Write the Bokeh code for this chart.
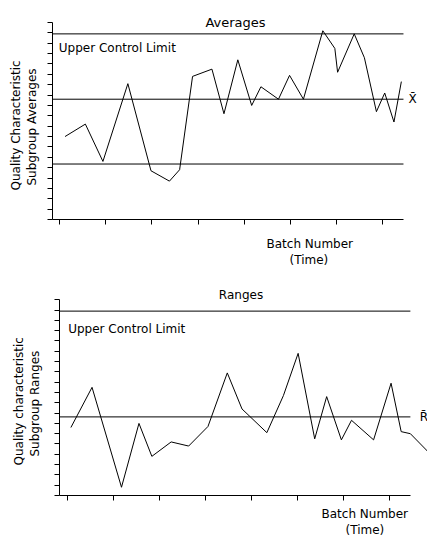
import math
from bokeh.plotting import figure
from bokeh.models import Range1d, FixedTicker, Label, Title
from bokeh.layouts import column
from bokeh.embed import file_html
from bokeh.resources import INLINE

# ---------------- data ----------------
avg_batch = [0.6, 2.8, 4.7, 7.4, 9.9, 11.9, 13.0, 14.4, 16.5, 17.8, 19.3, 20.8, 21.8,
             23.7, 24.9, 26.4, 28.5, 29.8, 30.1, 31.9, 33.0, 34.3, 35.2, 36.2, 37.0]
avg_values = [8.0, 9.2, 5.6, 13.1, 4.7, 3.7, 4.8, 13.8, 14.5, 10.2, 15.4, 11.0, 12.8,
              11.6, 13.9, 11.6, 18.2, 16.5, 14.2, 17.9, 15.6, 10.4, 12.2, 9.4, 13.3]
avg_ucl = 17.9
avg_center = 11.6
avg_lcl = 5.35

range_batch = [0.4, 2.7, 5.9, 7.8, 9.2, 11.3, 13.2, 15.3, 17.4, 19.0, 21.7, 23.5, 25.1,
               26.9, 28.2, 29.8, 30.9, 33.3, 35.2, 36.3, 37.3, 39.6]
range_values = [6.6, 10.5, 0.8, 7.0, 3.8, 5.2, 4.8, 6.7, 11.9, 8.4, 6.1, 9.7, 13.8,
                5.5, 9.6, 5.4, 7.3, 5.4, 10.9, 6.2, 6.0, 3.9]
range_ucl = 17.9
range_center = 7.63

x_ticks = [0, 5, 10, 15, 20, 25, 30, 35]
y_ticks = list(range(0, 20))

FONT = "DejaVu Sans"
FS = "12px"


def style(p, xb, yb, x_space, y_space):
    p.xgrid.visible = False
    p.ygrid.visible = False
    p.outline_line_color = None
    p.background_fill_color = "white"
    p.border_fill_color = "white"
    try:
        p.frame_align = False
    except Exception:
        pass
    for ax, ticks, b, space in ((p.xaxis[0], x_ticks, xb, x_space),
                                (p.yaxis[0], y_ticks, yb, y_space)):
        # visible ticks are drawn as minor ticks; the (invisible) major ticks
        # only reserve room between the axis and its side titles
        ax.ticker = FixedTicker(ticks=ticks, minor_ticks=ticks)
        ax.bounds = b
        ax.major_tick_in = 0
        ax.major_tick_out = space
        ax.major_tick_line_color = None
        ax.minor_tick_in = 0
        ax.minor_tick_out = 5
        ax.minor_tick_line_color = "black"
        ax.major_label_text_font_size = "0px"
        ax.major_label_text_color = None
        ax.major_label_standoff = 0
        ax.axis_line_color = "black"


def lab(p, x, y, text, align="left", baseline="alphabetic", size=FS):
    p.add_layout(Label(x=x, y=y, text=text, text_font=FONT, text_font_size=size,
                       text_color="black", text_align=align, text_baseline=baseline))


def side_title(p, text, side, offset):
    p.add_layout(Title(text=text, align="left", offset=offset, standoff=0,
                       text_font=FONT, text_font_size=FS, text_font_style="normal",
                       text_color="black", vertical_align="middle"), side)


# ---------------- Averages ----------------
x0a, x1a = -0.76, 37.23
p1 = figure(width=427, height=276, title=None,
            x_range=Range1d(-0.758, 39.83), y_range=Range1d(0, 21.12),
            min_border_left=52, min_border_right=0, min_border_top=0, min_border_bottom=57,
            output_backend="svg", toolbar_location=None)
style(p1, (x0a, x1a), (0, 19), 16, 13)
for yv in (avg_ucl, avg_center, avg_lcl):
    p1.line([x0a, x1a], [yv, yv], line_color="black", line_width=1)
p1.line(avg_batch, avg_values, line_color="black", line_width=1)
lab(p1, 19.05, 18.98, "Averages", align="center", size="13px")
lab(p1, -0.08, 16.5, "Upper Control Limit")
lab(p1, 37.77, avg_center, "X\u0304", baseline="middle")
side_title(p1, "Batch Number", "below", 214)
side_title(p1, "(Time)", "below", 237)
side_title(p1, "Subgroup Averages", "left", 34)
side_title(p1, "Quality Characteristic", "left", 29)

# ---------------- Ranges ----------------
x0r, x1r = -0.84, 37.3
p2 = figure(width=427, height=261, title=None,
            x_range=Range1d(-0.837, 39.16), y_range=Range1d(0, 21.26),
            min_border_left=59, min_border_right=0, min_border_top=0, min_border_bottom=41,
            output_backend="svg", toolbar_location=None)
style(p2, (x0r, x1r), (0, 19), 10, 17)
for yv in (range_ucl, range_center):
    p2.line([x0r, x1r], [yv, yv], line_color="black", line_width=1)
p2.line(range_batch, range_values, line_color="black", line_width=1)
lab(p2, 18.89, 19.5, "Ranges", align="center")
lab(p2, 0.11, 16.2, "Upper Control Limit")
lab(p2, 38.33, range_center, "R\u0304", baseline="middle")
side_title(p2, "Batch Number", "below", 262)
side_title(p2, "(Time)", "below", 286)
side_title(p2, "Subgroup Ranges", "left", 39)
side_title(p2, "Quality characteristic", "left", 30)

layout = column(p1, p2)
open("out.html", "w").write(file_html(layout, INLINE))
